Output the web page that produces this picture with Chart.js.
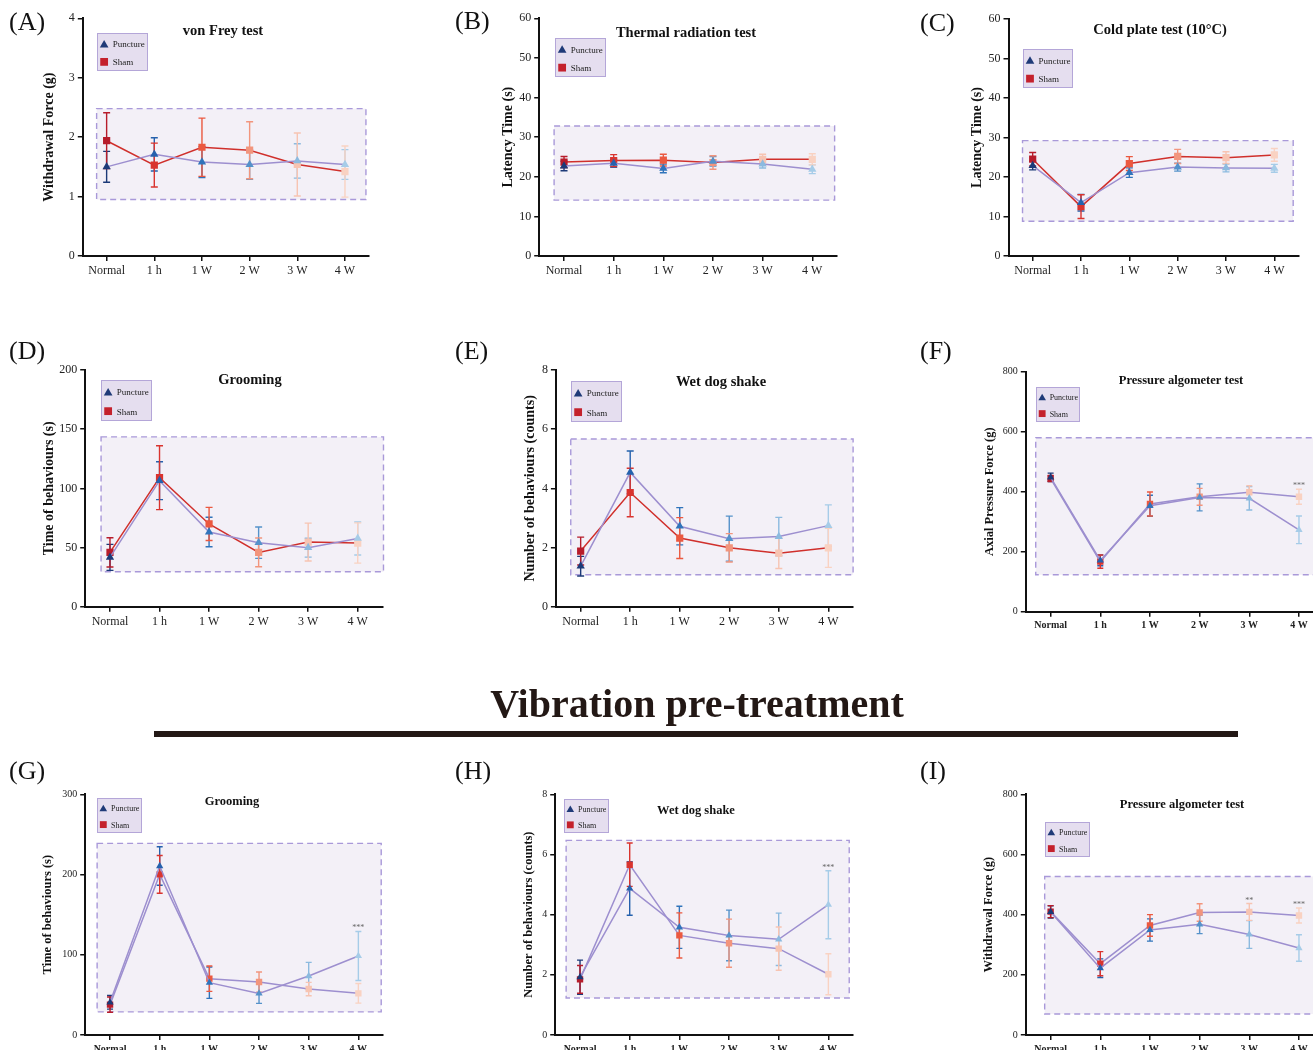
<!DOCTYPE html>
<html>
<head>
<meta charset="utf-8">
<title>Pain behaviour panels</title>
<script src="https://cdn.jsdelivr.net/npm/chart.js@4.4.1/dist/chart.umd.min.js"></script>
<style>
  html, body { margin: 0; padding: 0; background: #fff; overflow: hidden; }
  #page { position: relative; width: 1313px; height: 1050px; overflow: hidden;
          font-family: "Liberation Serif", "Times New Roman", serif; color: #231815; }
  #page canvas { position: absolute; left: 0; top: 0; }
  .tag { position: absolute; font-size: 26px; line-height: 26px; color: #111; }
  #headline { position: absolute; left: 0; width: 1394px; top: 684px; text-align: center;
              font-size: 40px; line-height: 40px; font-weight: bold; color: #231815; }
  #rule { position: absolute; left: 154px; top: 731px; width: 1084px; height: 6px; background: #231815; }
</style>
</head>
<body>
<div id="page">
  <div class="tag" style="left:9px;top:9px">(A)</div>
  <div class="tag" style="left:455px;top:8px">(B)</div>
  <div class="tag" style="left:920px;top:10px">(C)</div>
  <div class="tag" style="left:9px;top:338px">(D)</div>
  <div class="tag" style="left:455px;top:338px">(E)</div>
  <div class="tag" style="left:920px;top:338px">(F)</div>
  <div class="tag" style="left:9px;top:758px">(G)</div>
  <div class="tag" style="left:455px;top:758px">(H)</div>
  <div class="tag" style="left:920px;top:758px">(I)</div>
  <div id="headline">Vibration pre-treatment</div>
  <div id="rule"></div>
</div>

<script>
// ── Data (mean ± error) ─────────────────────────────────────
const timePoints = ["Normal", "1 h", "1 W", "2 W", "3 W", "4 W"];

// (A) von Frey test
const vonFreyPuncture    = [1.50, 1.71, 1.58, 1.54, 1.60, 1.54];
const vonFreyPunctureErr = [0.26, 0.28, 0.26, 0.25, 0.29, 0.25];
const vonFreySham        = [1.94, 1.53, 1.83, 1.78, 1.54, 1.42];
const vonFreyShamErr     = [0.47, 0.37, 0.49, 0.48, 0.53, 0.43];

// (B) Thermal radiation test
const thermalPuncture    = [22.7, 23.4, 22.1, 23.9, 23.2, 21.9];
const thermalPunctureErr = [1.2, 1.0, 1.1, 1.2, 1.0, 1.1];
const thermalSham        = [23.7, 24.1, 24.2, 23.6, 24.4, 24.4];
const thermalShamErr     = [1.4, 1.5, 1.5, 1.7, 1.3, 1.4];

// (C) Cold plate test
const coldPuncture    = [22.9, 13.5, 21.1, 22.5, 22.3, 22.2];
const coldPunctureErr = [1.1, 2.1, 1.2, 1.0, 1.0, 1.0];
const coldSham        = [24.5, 12.5, 23.4, 25.2, 24.9, 25.6];
const coldShamErr     = [1.7, 3.0, 1.75, 1.8, 1.5, 1.6];

// (D) Grooming
const groomingPuncture    = [41.7, 106.5, 63.1, 54.1, 49.9, 57.7];
const groomingPunctureErr = [11, 16, 12.5, 13.3, 8, 14];
const groomingSham        = [45.9, 109, 69.9, 45.9, 54.6, 53.8];
const groomingShamErr     = [12.4, 27, 14, 12.2, 16, 17];

// (E) Wet dog shake
const wetDogPuncture    = [1.37, 4.54, 2.72, 2.30, 2.37, 2.74];
const wetDogPunctureErr = [0.33, 0.72, 0.63, 0.76, 0.65, 0.70];
const wetDogSham        = [1.88, 3.86, 2.32, 1.99, 1.81, 1.99];
const wetDogShamErr     = [0.47, 0.82, 0.69, 0.48, 0.52, 0.66];

// (F) Pressure algometer test
const algometerPuncture    = [448, 171, 353, 381, 378, 273];
const algometerPunctureErr = [14, 18, 35, 45, 39, 46];
const algometerSham        = [444, 167, 359, 383, 398, 383];
const algometerShamErr     = [10, 22, 40, 28, 22, 25];
const algometerStars       = ["", "", "", "", "", "***"];

// (G) Grooming, vibration pre-treatment
const vibGroomingPuncture    = [40.7, 210.6, 65.2, 51.9, 73.5, 98.5];
const vibGroomingPunctureErr = [8.5, 24, 19.5, 12.5, 17, 30.5];
const vibGroomingSham        = [37.8, 200.2, 70.2, 66, 57.3, 51.9];
const vibGroomingShamErr     = [9.5, 23.5, 15.8, 12.5, 8.3, 12.2];
const vibGroomingStars       = ["", "", "", "", "", "***"];

// (H) Wet dog shake, vibration pre-treatment
const vibWetDogPuncture    = [1.92, 4.87, 3.58, 3.31, 3.18, 4.33];
const vibWetDogPunctureErr = [0.57, 0.89, 0.70, 0.84, 0.87, 1.13];
const vibWetDogSham        = [1.85, 5.66, 3.31, 3.05, 2.87, 2.02];
const vibWetDogShamErr     = [0.46, 0.72, 0.75, 0.80, 0.72, 0.68];
const vibWetDogStars       = ["", "", "", "", "", "***"];

// (I) Pressure algometer, vibration pre-treatment
const vibAlgometerPuncture    = [409, 222, 349, 368, 334, 289];
const vibAlgometerPunctureErr = [20, 31, 37, 31, 46, 44];
const vibAlgometerSham        = [410, 237, 364, 407, 409, 397];
const vibAlgometerShamErr     = [20, 40, 36, 29, 28, 25];
const vibAlgometerStars       = ["", "", "", "", "**", "***"];

// ── Styles ──────────────────────────────────────────────────
const SERIF = '"Liberation Serif", "Times New Roman", serif';
const punctureShades = ["#1c3a78", "#2561ad", "#3074bb", "#5592ca", "#8cbadf", "#a6cce8"];
const shamShades     = ["#b71c2b", "#d9342f", "#eb5940", "#f2957d", "#f7c4b2", "#f9d2c2"];
const PURPLE = "#9d8fcf";
const RED = "#d0302c";

Chart.defaults.font.family = SERIF;
Chart.defaults.color = "#222";

// ── Panel layout (page pixels) ──────────────────────────────
const panels = [
  { area: [82.8, 368.8, 18.3, 256], max: 4, step: 1, yTitle: "Withdrawal Force (g)", yTitleX: 49, big: true,
    title: "von Frey test", titleAt: [223, 31], legend: [97, 33, 51, 38],
    shade: { x: [-0.21, 5.44], y: [0.95, 2.48] }, shamLine: RED,
    punc: [vonFreyPuncture, vonFreyPunctureErr], sham: [vonFreySham, vonFreyShamErr] },
  { area: [539.2, 837.1, 18.3, 256], max: 60, step: 10, yTitle: "Latency Time (s)", yTitleX: 508, big: true,
    title: "Thermal radiation test", titleAt: [686, 33], legend: [555, 38, 51, 39],
    shade: { x: [-0.2, 5.45], y: [14.1, 32.8] }, shamLine: RED,
    punc: [thermalPuncture, thermalPunctureErr], sham: [thermalSham, thermalShamErr] },
  { area: [1008.5, 1298.5, 19, 256], max: 60, step: 10, yTitle: "Latency Time (s)", yTitleX: 977, big: true,
    title: "Cold plate test (10°C)", titleAt: [1160, 30], legend: [1023, 49, 50, 39],
    shade: { x: [-0.21, 5.39], y: [8.8, 29.2] }, shamLine: RED,
    punc: [coldPuncture, coldPunctureErr], sham: [coldSham, coldShamErr] },
  { area: [85.2, 382.5, 370, 606.7], max: 200, step: 50, yTitle: "Time of behaviours (s)", yTitleX: 49, big: true,
    title: "Grooming", titleAt: [250, 380], legend: [101, 380, 51, 41],
    shade: { x: [-0.18, 5.52], y: [29.5, 143.5] }, shamLine: RED,
    punc: [groomingPuncture, groomingPunctureErr], sham: [groomingSham, groomingShamErr] },
  { area: [555.9, 853.1, 370, 606.7], max: 8, step: 2, yTitle: "Number of behaviours (counts)", yTitleX: 530, big: true,
    title: "Wet dog shake", titleAt: [721, 382], legend: [571, 381, 51, 41],
    shade: { x: [-0.2, 5.5], y: [1.08, 5.67] }, shamLine: RED,
    punc: [wetDogPuncture, wetDogPunctureErr], sham: [wetDogSham, wetDogShamErr] },
  { area: [1025.8, 1323.8, 371.7, 611.7], max: 800, step: 200, yTitle: "Axial Pressure Force (g)", yTitleX: 990, big: false,
    title: "Pressure algometer test", titleAt: [1181, 381], legend: [1036, 387, 44, 35],
    shade: { x: [-0.3, 5.8], y: [123, 580] }, shamLine: PURPLE, stars: algometerStars,
    punc: [algometerPuncture, algometerPunctureErr], sham: [algometerSham, algometerShamErr] },
  { area: [85.2, 383.2, 794.3, 1035], max: 300, step: 100, yTitle: "Time of behaviours (s)", yTitleX: 48, big: false,
    title: "Grooming", titleAt: [232, 802], legend: [97, 798, 45, 35],
    shade: { x: [-0.26, 5.46], y: [28.8, 238.8] }, shamLine: PURPLE, stars: vibGroomingStars,
    punc: [vibGroomingPuncture, vibGroomingPunctureErr], sham: [vibGroomingSham, vibGroomingShamErr] },
  { area: [555.2, 853.2, 794.3, 1035], max: 8, step: 2, yTitle: "Number of behaviours (counts)", yTitleX: 529, big: false,
    title: "Wet dog shake", titleAt: [696, 811], legend: [564, 799, 45, 34],
    shade: { x: [-0.28, 5.42], y: [1.23, 6.47] }, shamLine: PURPLE, stars: vibWetDogStars,
    punc: [vibWetDogPuncture, vibWetDogPunctureErr], sham: [vibWetDogSham, vibWetDogShamErr] },
  { area: [1025.8, 1323.8, 794.3, 1035], max: 800, step: 200, yTitle: "Withdrawal Force (g)", yTitleX: 989, big: false,
    title: "Pressure algometer test", titleAt: [1182, 805], legend: [1045, 822, 45, 35],
    shade: { x: [-0.12, 5.8], y: [70, 527] }, shamLine: PURPLE, stars: vibAlgometerStars,
    punc: [vibAlgometerPuncture, vibAlgometerPunctureErr], sham: [vibAlgometerSham, vibAlgometerShamErr] },
];

const CANVAS_W = 1340;
const CANVAS_H = 1100;

// ── Marker helpers ──────────────────────────────────────────
function drawTriangle(ctx, x, y, r) {
  ctx.beginPath();
  ctx.moveTo(x, y - r);
  ctx.lineTo(x + r * 0.866, y + r * 0.5);
  ctx.lineTo(x - r * 0.866, y + r * 0.5);
  ctx.closePath();
  ctx.fill();
}

function drawSquare(ctx, x, y, r) {
  const s = r * Math.SQRT1_2;
  ctx.fillRect(x - s, y - s, 2 * s, 2 * s);
}

// ── Plugin: shaded window, error bars, stars, legend, title ──
const panelDecor = {
  id: "panelDecor",
  beforeDatasetsDraw(chart, args, o) {
    const { ctx, scales: { x, y } } = chart;

    // dashed shaded window
    const x0 = x.getPixelForValue(o.shade.x[0]);
    const x1 = x.getPixelForValue(o.shade.x[1]);
    const y0 = y.getPixelForValue(o.shade.y[1]);
    const y1 = y.getPixelForValue(o.shade.y[0]);
    ctx.save();
    ctx.fillStyle = "#f3f0f7";
    ctx.fillRect(x0, y0, x1 - x0, y1 - y0);
    ctx.setLineDash([6, 4]);
    ctx.strokeStyle = "#a999d9";
    ctx.lineWidth = 1.4;
    ctx.strokeRect(x0, y0, x1 - x0, y1 - y0);
    ctx.restore();

    // error bars
    ctx.save();
    ctx.lineWidth = 1.4;
    chart.data.datasets.forEach((ds) => {
      ds.data.forEach((v, j) => {
        const e = ds.errors[j];
        const px = x.getPixelForValue(j);
        const top = y.getPixelForValue(v + e);
        const bot = y.getPixelForValue(v - e);
        ctx.strokeStyle = ds.pointBackgroundColor[j];
        ctx.beginPath();
        ctx.moveTo(px, top); ctx.lineTo(px, bot);
        ctx.moveTo(px - o.cap, top); ctx.lineTo(px + o.cap, top);
        ctx.moveTo(px - o.cap, bot); ctx.lineTo(px + o.cap, bot);
        ctx.stroke();
      });
    });
    ctx.restore();
  },
  afterDraw(chart, args, o) {
    const { ctx, scales: { x, y } } = chart;
    const sets = chart.data.datasets;

    // significance stars
    if (o.stars) {
      ctx.save();
      ctx.font = `8px ${SERIF}`;
      ctx.fillStyle = "#666";
      ctx.textAlign = "center";
      ctx.textBaseline = "alphabetic";
      o.stars.forEach((s, j) => {
        if (!s) return;
        const top = Math.max(...sets.map((ds) => ds.data[j] + ds.errors[j]));
        ctx.fillText(s, x.getPixelForValue(j), y.getPixelForValue(top) - 1);
      });
      ctx.restore();
    }

    // legend box
    const [lx, ly, lw, lh] = o.legend;
    ctx.save();
    ctx.fillStyle = "#e5deef";
    ctx.fillRect(lx, ly, lw, lh);
    ctx.strokeStyle = "#b4a6d8";
    ctx.lineWidth = 1;
    ctx.strokeRect(lx + 0.5, ly + 0.5, lw - 1, lh - 1);
    ctx.font = `${o.legendFont}px ${SERIF}`;
    ctx.textBaseline = "middle";
    sets.forEach((ds, i) => {
      const cy = ly + lh * (i === 0 ? 0.29 : 0.76);
      const cx = lx + lw * 0.14;
      ctx.fillStyle = ds.legendColor;
      if (ds.pointStyle === "triangle") drawTriangle(ctx, cx, cy + 1, o.legendMarker);
      else drawSquare(ctx, cx, cy, o.legendMarker * 1.1);
      ctx.fillStyle = "#222";
      ctx.fillText(ds.label, lx + lw * 0.31, cy + 1);
    });
    ctx.restore();

    // panel title
    ctx.save();
    ctx.font = `bold ${o.titleSize}px ${SERIF}`;
    ctx.fillStyle = "#111";
    ctx.textAlign = "center";
    ctx.textBaseline = "middle";
    ctx.fillText(o.title, o.titleAt[0], o.titleAt[1]);
    ctx.restore();
  },
};

// ── Build charts ────────────────────────────────────────────
const page = document.getElementById("page");

panels.forEach((p) => {
  const [left, right, top, bottom] = p.area;
  const tickSize = p.big ? 12 : 10;
  const yTitleSize = p.big ? 14 : 12.5;
  const yW = left - p.yTitleX + yTitleSize / 2;
  const xH = 30;
  const markR = p.big ? 4.8 : 4.2;

  const canvas = document.createElement("canvas");
  canvas.width = CANVAS_W;
  canvas.height = CANVAS_H;
  canvas.style.width = CANVAS_W + "px";
  canvas.style.height = CANVAS_H + "px";
  page.insertBefore(canvas, page.firstChild);

  new Chart(canvas.getContext("2d"), {
    type: "line",
    data: {
      labels: timePoints,
      datasets: [
        {
          label: "Puncture",
          data: p.punc[0],
          errors: p.punc[1],
          borderColor: PURPLE,
          borderWidth: 1.5,
          pointStyle: "triangle",
          pointRadius: markR,
          pointBackgroundColor: punctureShades,
          pointBorderColor: punctureShades,
          pointBorderWidth: 0,
          legendColor: "#1f3a78",
          tension: 0,
        },
        {
          label: "Sham",
          data: p.sham[0],
          errors: p.sham[1],
          borderColor: p.shamLine,
          borderWidth: 1.5,
          pointStyle: "rect",
          pointRadius: markR + 0.3,
          pointBackgroundColor: shamShades,
          pointBorderColor: shamShades,
          pointBorderWidth: 0,
          legendColor: "#c4212c",
          tension: 0,
        },
      ],
    },
    options: {
      responsive: false,
      animation: false,
      events: [],
      layout: {
        padding: {
          left: left - yW,
          right: CANVAS_W - right,
          top: top,
          bottom: CANVAS_H - bottom - xH,
        },
      },
      plugins: {
        legend: { display: false },
        tooltip: { enabled: false },
        panelDecor: {
          shade: p.shade,
          cap: p.big ? 3.5 : 3,
          stars: p.stars,
          legend: p.legend,
          legendFont: p.big ? 9 : 8,
          legendMarker: p.big ? 5 : 4.4,
          title: p.title,
          titleAt: p.titleAt,
          titleSize: p.big ? 14.5 : 12.5,
        },
      },
      scales: {
        x: {
          type: "category",
          offset: true,
          afterFit: (s) => { s.height = xH; },
          grid: { drawOnChartArea: false, drawTicks: true, tickLength: 5, color: "#111", lineWidth: 1.5, offset: false },
          border: { display: true, color: "#111", width: 2 },
          ticks: {
            color: "#222",
            padding: 3,
            maxRotation: 0,
            autoSkip: false,
            font: { size: p.big ? 12 : 10, weight: p.big ? "normal" : "bold" },
          },
        },
        y: {
          min: 0,
          max: p.max,
          afterFit: (s) => { s.width = yW; },
          grid: { drawOnChartArea: false, drawTicks: true, tickLength: 5, color: "#111", lineWidth: 1.5 },
          border: { display: true, color: "#111", width: 2 },
          ticks: { stepSize: p.step, color: "#222", padding: 3, font: { size: tickSize } },
          title: {
            display: true,
            text: p.yTitle,
            padding: 0,
            color: "#111",
            font: { size: yTitleSize, weight: "bold", lineHeight: 1 },
          },
        },
      },
    },
    plugins: [panelDecor],
  });
});
</script>
</body>
</html>
